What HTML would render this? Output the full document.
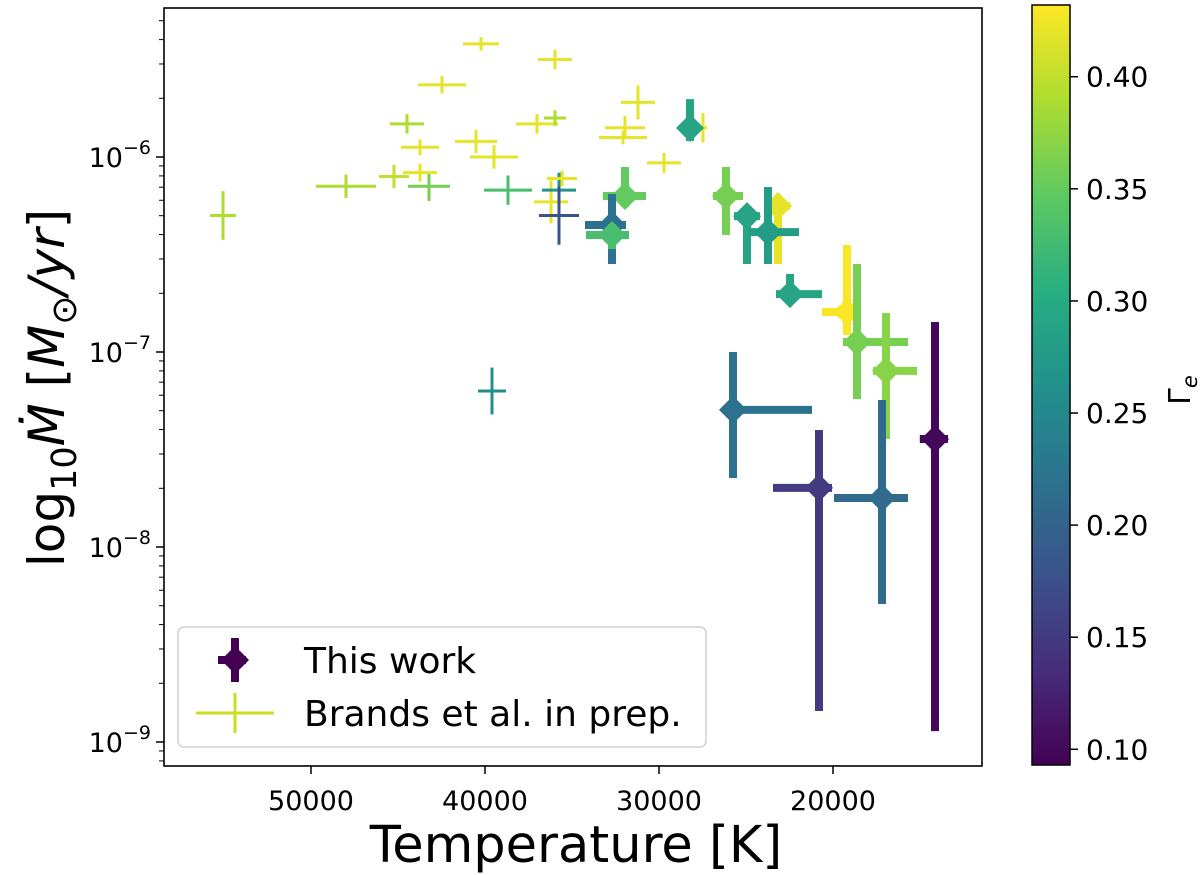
<!DOCTYPE html>
<html><head><meta charset="utf-8"><style>
html,body{margin:0;padding:0;background:#fff;}
svg{display:block;font-family:"DejaVu Sans","Liberation Sans",sans-serif;}
</style></head><body>
<svg id="chart" width="1200" height="875" viewBox="0 0 1200 875">
<defs>
<clipPath id="plotclip"><rect x="164" y="8" width="818" height="758"/></clipPath>
<linearGradient id="viridis" x1="0" y1="1" x2="0" y2="0">
<stop offset="0" stop-color="#440154"/><stop offset="0.125" stop-color="#472d7b"/>
<stop offset="0.25" stop-color="#3b528b"/><stop offset="0.375" stop-color="#2c728e"/>
<stop offset="0.5" stop-color="#21918c"/><stop offset="0.625" stop-color="#28ae80"/>
<stop offset="0.75" stop-color="#5ec962"/><stop offset="0.875" stop-color="#addc30"/>
<stop offset="1" stop-color="#fde725"/></linearGradient>
</defs>
<g id="marks" clip-path="url(#plotclip)"></g>
<rect x="164" y="8" width="818" height="758" fill="none" stroke="#000" stroke-width="1.6"/>
<g id="axes"></g>
<text x="576" y="862" font-size="51" text-anchor="middle">Temperature [K]</text>
<text transform="translate(64,388) rotate(-90)" font-size="50" text-anchor="middle">log<tspan font-size="35" dy="12">10</tspan><tspan dy="-12" font-style="italic">Ṁ</tspan> [<tspan font-style="italic">M</tspan><tspan font-size="35" dy="12">⊙</tspan><tspan dy="-12" font-style="italic">/yr</tspan>]</text>
<g>
<rect x="178" y="627" width="528" height="120" rx="6" fill="#fff" fill-opacity="0.8" stroke="#d0d0d0" stroke-width="1.5"/>
<g>
<line x1="218" y1="660" x2="246" y2="660" stroke="#440154" stroke-width="8"/>
<line x1="235" y1="638" x2="235" y2="682" stroke="#440154" stroke-width="8"/>
<polygon points="235,646 249,660 235,674 221,660" fill="#440154"/>
<text x="304" y="673" font-size="36">This work</text></g>
<g>
<line x1="196" y1="713" x2="274" y2="713" stroke="#c8e020" stroke-width="3"/>
<line x1="235" y1="693" x2="235" y2="733" stroke="#c8e020" stroke-width="3"/>
<text x="304" y="726" font-size="36">Brands et al. in prep.</text></g>
</g>
<rect x="1032" y="5" width="38" height="760" fill="url(#viridis)" stroke="#000" stroke-width="1.5"/>
<g id="cbticks"></g>
<text transform="translate(1190,390) rotate(-90)" font-size="30" text-anchor="middle">Γ<tspan font-size="21" dy="7" font-style="italic">e</tspan></text>
</svg>
<script>
// Brands et al. (thin error bars)
const brandsT = [55057,47989,45231,43219,43736,43736,44483,42472,40230,40517,39483,38678,37012,35977,35977,36207,35748,35748,35575,31207,31954,32069,29713,27472,39598];
const brandsTerr = [747,1724,862,1207,977,1092,977,1379,1034,1207,1379,1379,1207,977,632,977,977,1149,862,977,1149,1379,977,230,805];
const brandsLogM = [-6.30,-6.15,-6.10,-6.15,-6.08,-5.95,-5.83,-5.63,-5.42,-5.92,-6.00,-6.17,-5.83,-5.50,-5.80,-6.23,-6.17,-6.30,-6.11,-5.72,-5.85,-5.90,-6.03,-5.85,-7.20];
const brandsLogMerr = [0.125,0.06,0.06,0.075,0.045,0.04,0.05,0.045,0.035,0.06,0.06,0.075,0.05,0.05,0.04,0.11,0.09,0.15,0.04,0.087,0.06,0.035,0.05,0.075,0.12];
const brandsGamma = [0.39,0.39,0.40,0.36,0.42,0.42,0.39,0.42,0.42,0.42,0.42,0.33,0.42,0.42,0.39,0.42,0.27,0.18,0.42,0.42,0.42,0.42,0.42,0.42,0.26];
// This work (thick error bars, diamond markers)
const workT = [28219,31954,32701,32701,26150,24943,23162,23736,22471,19195,18620,16954,25748,20805,17184,14138];
const workTmax = [28448,33219,34253,34195,26897,25690,23908,24886,23276,20632,19425,17701,25862,23448,19942,15011];
const workTmin = [27988,30747,31897,31724,25173,24196,22471,21954,20632,18449,15690,15172,21207,20057,15690,13391];
const workLogM = [-5.851,-6.200,-6.349,-6.400,-6.200,-6.303,-6.251,-6.385,-6.703,-6.795,-6.949,-7.097,-7.297,-7.697,-7.749,-7.446];
const workLogMmax = [-5.703,-6.051,-6.190,-6.344,-6.051,-6.251,-6.231,-6.154,-6.600,-6.451,-6.549,-6.800,-7.000,-7.400,-7.246,-6.846];
const workLogMmin = [-5.918,-6.256,-6.549,-6.472,-6.400,-6.549,-6.549,-6.549,-6.718,-6.913,-7.241,-7.446,-7.646,-8.841,-8.292,-8.944];
const workGamma = [0.29,0.35,0.22,0.33,0.36,0.29,0.42,0.28,0.29,0.43,0.36,0.37,0.22,0.15,0.21,0.10];
const xTicks = [50000,40000,30000,20000];
const yTickExps = [-6,-7,-8,-9];
const cbTicks = [0.10,0.15,0.20,0.25,0.30,0.35,0.40];

const NS = "http://www.w3.org/2000/svg";
function xs(T){ return 311 + (50000 - T) / 10000 * 174; }
function ys(lm){ return 157 + (-6 - lm) * 195; }
const vmin = 0.093, vmax = 0.432;
function cbY(v){ return 765 - (v - vmin) / (vmax - vmin) * 760; }
const vir = ["#440154","#472d7b","#3b528b","#2c728e","#21918c","#28ae80","#5ec962","#addc30","#fde725"];
function hex(h){ return [1,3,5].map(i=>parseInt(h.substr(i,2),16)); }
function cmap(v){
  let t = Math.max(0, Math.min(1, (v - vmin) / (vmax - vmin))) * 8;
  const i = Math.min(7, Math.floor(t)), f = t - i;
  const a = hex(vir[i]), b = hex(vir[i+1]);
  return "rgb(" + a.map((c,k)=>Math.round(c + (b[k]-c)*f)).join(",") + ")";
}
function mk(tag, attrs, parent){
  const e = document.createElementNS(NS, tag);
  for (const k in attrs) e.setAttribute(k, attrs[k]);
  parent.appendChild(e); return e;
}
const marks = document.getElementById("marks");
for (let i = 0; i < brandsT.length; i++) {
  const g = mk("g", {stroke: cmap(brandsGamma[i]), "stroke-width": 3}, marks);
  
  
  const x = xs(brandsT[i]), y = ys(brandsLogM[i]);
  mk("line", {x1: xs(brandsT[i] + brandsTerr[i]), x2: xs(brandsT[i] - brandsTerr[i]), y1: y, y2: y}, g);
  mk("line", {x1: x, x2: x, y1: ys(brandsLogM[i] + brandsLogMerr[i]), y2: ys(brandsLogM[i] - brandsLogMerr[i])}, g);
}
for (let i = 0; i < workT.length; i++) {
  const c = cmap(workGamma[i]);
  const g = mk("g", {stroke: c, "stroke-width": 8}, marks);
  
  
  const x = xs(workT[i]), y = ys(workLogM[i]);
  mk("line", {x1: xs(workTmax[i]), x2: xs(workTmin[i]), y1: y, y2: y}, g);
  mk("line", {x1: x, x2: x, y1: ys(workLogMmax[i]), y2: ys(workLogMmin[i])}, g);
  mk("polygon", {points: `${x},${y-14} ${x+14},${y} ${x},${y+14} ${x-14},${y}`, fill: c, stroke: "none"}, g);
}
const axes = document.getElementById("axes");
for (const t of xTicks) {
  const x = xs(t);
  const tk = mk("line", {x1: x, x2: x, y1: 766, y2: 774, stroke: "#000", "stroke-width": 1.5}, axes);
  
  
  const lb = mk("text", {x: x, y: 810, "font-size": 27, "text-anchor": "middle"}, axes);
  lb.textContent = String(t);
  
  
}
for (const e of yTickExps) {
  const y = ys(e);
  const tk = mk("line", {x1: 156, x2: 164, y1: y, y2: y, stroke: "#000", "stroke-width": 1.5}, axes);
  
  
  const lb = mk("text", {x: 151, y: y + 10, "font-size": 27, "text-anchor": "end"}, axes);
  lb.innerHTML = '10<tspan font-size="19" dy="-13">−' + (-e) + '</tspan>';
  
  
}
for (let d = -10; d <= -5; d++) {
  for (let m = 2; m <= 9; m++) {
    const y = ys(d + Math.log10(m));
    if (y < 8 || y > 766) continue;
    const tk = mk("line", {x1: 159, x2: 164, y1: y, y2: y, stroke: "#000", "stroke-width": 1}, axes);
    
    
  }
}
const cbt = document.getElementById("cbticks");
for (const v of cbTicks) {
  const y = cbY(v);
  const tk = mk("line", {x1: 1070, x2: 1078, y1: y, y2: y, stroke: "#000", "stroke-width": 1.5}, cbt);
  
  
  const lb = mk("text", {x: 1086, y: y + 10, "font-size": 28}, cbt);
  lb.textContent = v.toFixed(2);
  
  
}
</script>
</body></html>
